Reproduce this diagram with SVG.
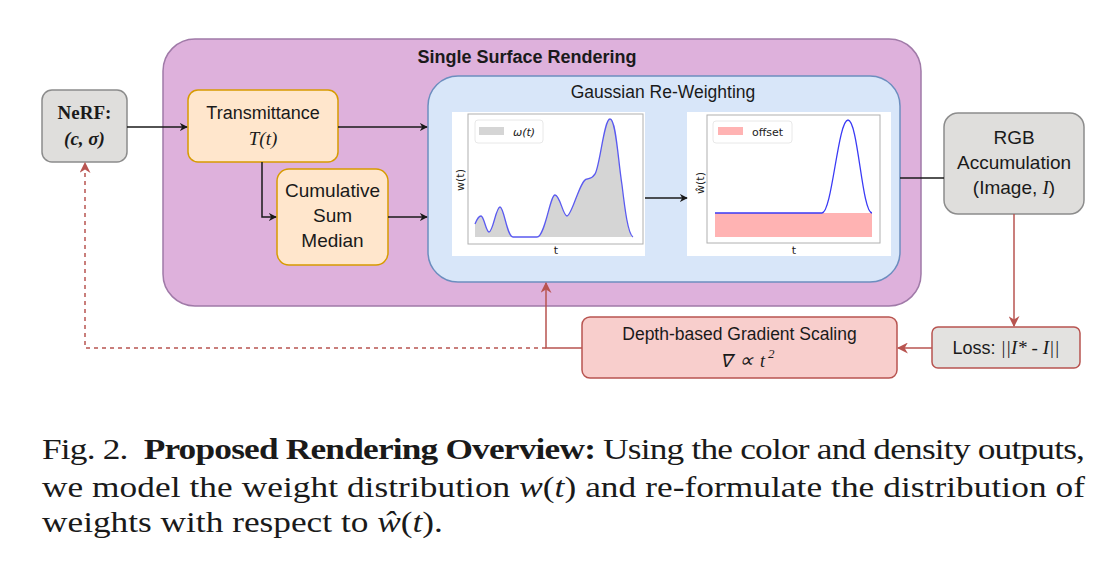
<svg xmlns="http://www.w3.org/2000/svg" width="1107" height="578" viewBox="0 0 1107 578">
<defs>
<style>
.sans{font-family:"Liberation Sans",Arial,sans-serif;fill:#1a1a1a}
.serif{font-family:"Liberation Serif","Times New Roman",serif;fill:#1a1a1a}
.blk{stroke:#1a1a1a;stroke-width:1.5;fill:none}
.red{stroke:#b85450;stroke-width:1.5;fill:none}
.gray{fill:#dfdedc;stroke:#8c8c8c;stroke-width:1.5}
.orange{fill:#ffe6cc;stroke:#d79b00;stroke-width:1.5}
.pink{fill:#f8cecc;stroke:#b85450;stroke-width:1.5}
.small{font-family:"DejaVu Sans","Liberation Sans",sans-serif;fill:#222}
</style>
<marker id="ab" viewBox="0 0 10 10" refX="9" refY="5" markerWidth="8" markerHeight="8" orient="auto" markerUnits="userSpaceOnUse">
<path d="M0,0 L10,5 L0,10 L3,5 Z" fill="#1a1a1a"/>
</marker>
<marker id="ar" viewBox="0 0 10 10" refX="9" refY="5" markerWidth="11" markerHeight="11" orient="auto" markerUnits="userSpaceOnUse">
<path d="M0,0 L10,5 L0,10 L3,5 Z" fill="#b85450"/>
</marker>
</defs>
<rect width="1107" height="578" fill="#ffffff"/>

<g id="single-surface-rendering">
<rect x="163" y="39" width="758" height="267" rx="32" fill="#deb1dc" stroke="#a07aa8" stroke-width="1.5"/>
<text x="527" y="63" text-anchor="middle" class="sans" font-size="18" font-weight="bold">Single Surface Rendering</text>
</g>

<g id="gaussian-reweighting">
<rect x="428" y="76" width="472" height="206" rx="30" fill="#d8e6f9" stroke="#6c8ebf" stroke-width="1.5"/>
<text x="663" y="98" text-anchor="middle" class="sans" font-size="17.5">Gaussian Re-Weighting</text>
</g>

<g id="chart-w">
<rect x="452" y="112" width="193" height="144" fill="#ffffff"/>
<path d="M475,224 C477,219 479,216 481,216 C484,216 486,232 489,232 C493,232 496,207 500,207 C504,207 507,237 513,237 L537,237 C545,237 550,195 555,195 C560,195 563,216 567,216 C572,216 580,179 587,179 C591,178 592,178 595,174 C600,166 604,119 610,119 C616,119 618,160 622,185 C625,210 628,234 633,237 L475,237 Z" fill="#d5d5d5" stroke="none"/>
<path d="M475,224 C477,219 479,216 481,216 C484,216 486,232 489,232 C493,232 496,207 500,207 C504,207 507,237 513,237 L537,237 C545,237 550,195 555,195 C560,195 563,216 567,216 C572,216 580,179 587,179 C591,178 592,178 595,174 C600,166 604,119 610,119 C616,119 618,160 622,185 C625,210 628,234 633,237" fill="none" stroke="#5a5af0" stroke-width="1.3"/>
<rect x="468" y="114" width="175" height="130" fill="none" stroke="#b0b0b0" stroke-width="1"/>
<rect x="475" y="120" width="68" height="23" rx="3" fill="#ffffff" fill-opacity="0.8" stroke="#e2e2e2" stroke-width="0.8"/>
<rect x="479" y="127" width="25" height="8" fill="#d5d5d5"/>
<text x="513" y="136" class="small" font-size="11" font-style="italic">ω(t)</text>
<text x="556" y="254" text-anchor="middle" class="small" font-size="11">t</text>
<text transform="translate(464,180) rotate(-90)" text-anchor="middle" class="small" font-size="11">w(t)</text>
</g>

<g id="chart-what">
<rect x="687" y="112" width="204" height="144" fill="#ffffff"/>
<rect x="715" y="213" width="157" height="24" fill="#ffb3b3"/>
<path d="M715,213 L822,213 C832,213 838,120 848,120 C858,120 862,213 872,213" fill="none" stroke="#3a3af5" stroke-width="1.3"/>
<rect x="707" y="115" width="173" height="128" fill="none" stroke="#b0b0b0" stroke-width="1"/>
<rect x="713" y="121" width="79" height="22" rx="3" fill="#ffffff" fill-opacity="0.8" stroke="#e2e2e2" stroke-width="0.8"/>
<rect x="718" y="127" width="25" height="8" fill="#ffb3b3"/>
<text x="752" y="136" class="small" font-size="11">offset</text>
<text x="794" y="254" text-anchor="middle" class="small" font-size="11">t</text>
<text transform="translate(704,183) rotate(-90)" text-anchor="middle" class="small" font-size="11">ŵ(t)</text>
</g>

<g id="nerf">
<rect x="42" y="90" width="85" height="72" rx="10" class="gray"/>
<text x="84.5" y="119" text-anchor="middle" class="serif" font-size="19" font-weight="bold">NeRF:</text>
<text x="84.5" y="145" text-anchor="middle" class="serif" font-size="19" font-weight="bold" font-style="italic">(c, σ)</text>
</g>

<g id="transmittance">
<rect x="188" y="90" width="150" height="72" rx="10" class="orange"/>
<text x="263" y="119" text-anchor="middle" class="sans" font-size="18">Transmittance</text>
<text x="263" y="145" text-anchor="middle" class="serif" font-size="19" font-style="italic">T(t)</text>
</g>

<g id="cumulative-sum-median">
<rect x="277" y="169" width="111" height="96" rx="12" class="orange"/>
<text x="332.5" y="197" text-anchor="middle" class="sans" font-size="19">Cumulative</text>
<text x="332.5" y="222" text-anchor="middle" class="sans" font-size="19">Sum</text>
<text x="332.5" y="247" text-anchor="middle" class="sans" font-size="19">Median</text>
</g>

<g id="rgb-accumulation">
<rect x="944" y="113" width="140" height="101" rx="14" class="gray"/>
<text x="1014" y="144" text-anchor="middle" class="sans" font-size="19">RGB</text>
<text x="1014" y="169" text-anchor="middle" class="sans" font-size="19">Accumulation</text>
<text x="1014" y="194" text-anchor="middle" class="sans" font-size="19">(Image, <tspan class="serif" font-style="italic">I</tspan>)</text>
</g>

<g id="loss">
<rect x="932" y="327" width="148" height="41" rx="6" fill="#e3e2e0" stroke="#b85450" stroke-width="1.5"/>
<text x="1006" y="354" text-anchor="middle" class="sans" font-size="18">Loss: <tspan class="serif" font-style="italic" font-size="19">||I* - I||</tspan></text>
</g>

<g id="depth-gradient-scaling">
<rect x="582" y="317" width="315" height="61" rx="8" class="pink"/>
<text x="739.5" y="340" text-anchor="middle" class="sans" font-size="17.5">Depth-based Gradient Scaling</text>
<text y="367" class="serif" font-size="18" font-style="italic"><tspan x="720">∇</tspan><tspan x="739" font-size="20">∝</tspan><tspan x="760">t</tspan><tspan x="768" dy="-9" font-size="13">2</tspan></text>
</g>

<g id="connectors">
<line x1="127" y1="127" x2="187" y2="127" class="blk" marker-end="url(#ab)"/>
<line x1="338" y1="127" x2="427" y2="127" class="blk" marker-end="url(#ab)"/>
<polyline points="262,162 262,217 276,217" class="blk" marker-end="url(#ab)"/>
<line x1="388" y1="217" x2="427" y2="217" class="blk" marker-end="url(#ab)"/>
<line x1="645" y1="198" x2="687" y2="198" class="blk" marker-end="url(#ab)"/>
<line x1="900" y1="178" x2="944" y2="178" class="blk"/>
<line x1="1014" y1="214" x2="1014" y2="326" class="red" marker-end="url(#ar)"/>
<line x1="932" y1="348" x2="898" y2="348" class="red" marker-end="url(#ar)"/>
<polyline points="582,348 546,348 546,283" class="red" marker-end="url(#ar)"/>
<polyline points="546,348 85,348 85,163" class="red" stroke-dasharray="4,4" marker-end="url(#ar)"/>
</g>

<g id="caption" class="serif" font-size="29" transform="scale(1.217 1)">
<text x="34.5" y="459" textLength="857" lengthAdjust="spacing" xml:space="preserve">Fig. 2.  <tspan font-weight="bold">Proposed Rendering Overview:</tspan> Using the color and density outputs,</text>
<text x="34.5" y="497" textLength="857" lengthAdjust="spacing">we model the weight distribution <tspan font-style="italic">w</tspan>(<tspan font-style="italic">t</tspan>) and re-formulate the distribution of</text>
<text x="34.5" y="532">weights with respect to <tspan font-style="italic">ŵ</tspan>(<tspan font-style="italic">t</tspan>).</text>
</g>
</svg>
